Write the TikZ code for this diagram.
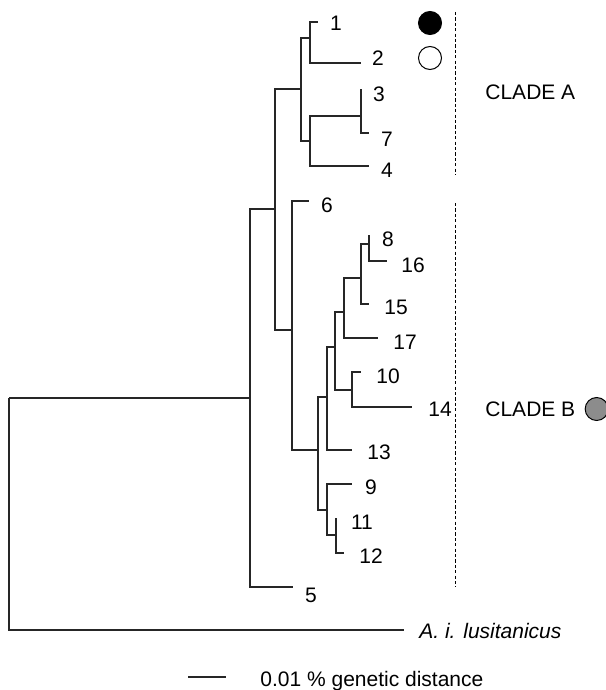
\documentclass[tikz,border=0pt]{standalone}
\usepackage{fontspec}
\setmainfont{Liberation Sans}
\usetikzlibrary{positioning}

\begin{document}
\begin{tikzpicture}[x=0.5pt,y=-0.5pt,font=\fontsize{10.5}{12.6}\selectfont,
    br/.style={line width=0.6pt,draw=black!85},
    lab/.style={inner sep=0pt},
    cladeline/.style={dash pattern=on 1.6pt off 1.1pt,line width=0.45pt},
    dot/.style={circle,draw=black,line width=0.5pt,minimum size=11.5pt,inner sep=0pt}]
\useasboundingbox (0,0) rectangle (605,690);
% internal nodes (vertical line, stem height)
\coordinate (r) at (9,398);
\coordinate (n1) at (250,398);
\coordinate (n2) at (275,209);
\coordinate (nA) at (301,89);
\coordinate (n12) at (310,38);
\coordinate (n374) at (310,141);
\coordinate (n37) at (361,116);
\coordinate (nB) at (292,330);
\coordinate (nB2) at (318,450);
\coordinate (nB3) at (327,397);
\coordinate (nB4) at (335,347);
\coordinate (nB5) at (344,312);
\coordinate (nB6) at (361,278);
\coordinate (n816) at (369,244);
\coordinate (n1014) at (352,390);
\coordinate (n9) at (327,510);
\coordinate (n1112) at (336,535);
% tips
\coordinate (t1) at (318,22);
\coordinate (t2) at (361,63);
\coordinate (t3) at (361,89);
\coordinate (t7) at (369,133);
\coordinate (t4) at (369,166);
\coordinate (t6) at (309,201);
\coordinate (t8) at (369,235);
\coordinate (t16) at (387,261);
\coordinate (t15) at (369,304);
\coordinate (t17) at (378,338);
\coordinate (t10) at (361,372);
\coordinate (t14) at (412,407);
\coordinate (t13) at (352,450);
\coordinate (t9) at (352,484);
\coordinate (t11) at (336,518);
\coordinate (t12) at (344,553);
\coordinate (t5) at (293,587);
\coordinate (tout) at (404,630);
% branches
\draw[br] (r) |- (n1);
\draw[br] (r) |- (tout);
\draw[br] (n1) |- (n2);
\draw[br] (n1) |- (t5);
\draw[br] (n2) |- (nA);
\draw[br] (n2) |- (nB);
\draw[br] (nA) |- (n12);
\draw[br] (nA) |- (n374);
\draw[br] (n12) |- (t1);
\draw[br] (n12) |- (t2);
\draw[br] (n374) |- (n37);
\draw[br] (n374) |- (t4);
\draw[br] (n37) |- (t3);
\draw[br] (n37) |- (t7);
\draw[br] (nB) |- (t6);
\draw[br] (nB) |- (nB2);
\draw[br] (nB2) |- (nB3);
\draw[br] (nB2) |- (n9);
\draw[br] (nB3) |- (nB4);
\draw[br] (nB3) |- (t13);
\draw[br] (nB4) |- (nB5);
\draw[br] (nB4) |- (n1014);
\draw[br] (nB5) |- (nB6);
\draw[br] (nB5) |- (t17);
\draw[br] (nB6) |- (n816);
\draw[br] (nB6) |- (t15);
\draw[br] (n816) |- (t8);
\draw[br] (n816) |- (t16);
\draw[br] (n1014) |- (t10);
\draw[br] (n1014) |- (t14);
\draw[br] (n9) |- (t9);
\draw[br] (n9) |- (n1112);
\draw[br] (n1112) |- (t11);
\draw[br] (n1112) |- (t12);
% tip labels
\node[lab] (l1) at (336,23) {1};
\node[lab] (l2) at (378,58) {2};
\node[lab] (l3) at (379,94) {3};
\node[lab] (l7) at (387,139) {7};
\node[lab] (l4) at (387,170) {4};
\node[lab] (l6) at (327,205) {6};
\node[lab] (l8) at (388,239) {8};
\node[lab] (l16) at (413,265) {16};
\node[lab] (l15) at (396,307) {15};
\node[lab] (l17) at (405,342) {17};
\node[lab] (l10) at (388,376) {10};
\node[lab] (l14) at (440,409) {14};
\node[lab] (l13) at (379,452) {13};
\node[lab] (l9) at (371,487) {9};
\node[lab] (l11) at (362,522) {11};
\node[lab] (l12) at (371,556) {12};
\node[lab] (l5) at (311,595) {5};
\node[lab,anchor=base west] (lout) at (419,638) {\itshape A. i. lusitanicus};
% clades
\coordinate (dA1) at (455,12);
\coordinate (dA2) at (455,175);
\coordinate (dB1) at (455,203);
\coordinate (dB2) at (455,587);
\draw[cladeline] (dA1) -- (dA2);
\draw[cladeline] (dB1) -- (dB2);
\node[lab,anchor=west] (cA) at (485,92) {CLADE A};
\node[lab,anchor=west] (cB) at (485,409) {CLADE B};
\node[dot,fill=black] (d1) at (430,23) {};
\node[dot,fill=white] (d2) at (430,58) {};
\node[dot,fill=black!45,right=4.5pt of cB] (dB) {};
% scale bar
\coordinate (s1) at (188,677);
\coordinate (s2) at (226,677);
\draw[br] (s1) -- (s2);
\node[lab,anchor=base west] (sl) at (260,686) {0.01 \% genetic distance};
\end{tikzpicture}
\end{document}
